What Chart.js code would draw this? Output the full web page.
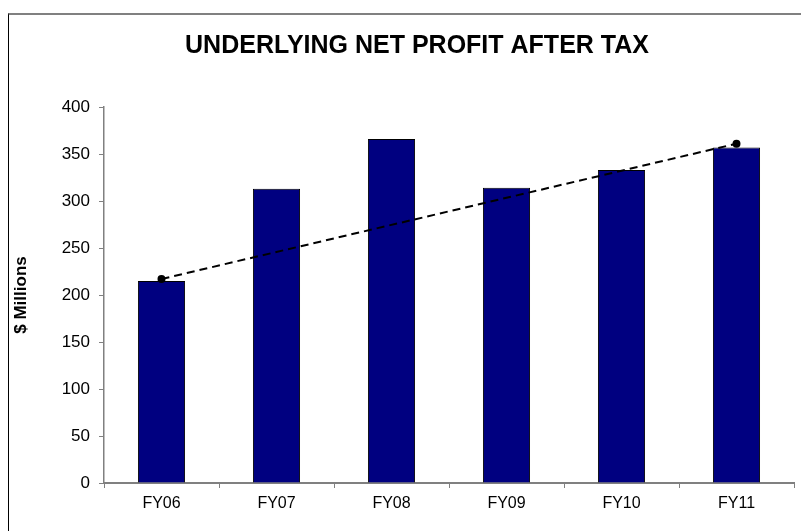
<!DOCTYPE html>
<html>
<head>
<meta charset="utf-8">
<script src="https://cdn.jsdelivr.net/npm/chart.js@4"></script>
<style>
  html, body { margin: 0; padding: 0; background: #fff; overflow: hidden; }
  #wrap { position: relative; width: 801px; height: 531px; overflow: hidden; }
  #frame {
    position: absolute; left: 8px; top: 13px; width: 900px; height: 600px;
    border-left: 1px solid #000; border-top: 2px solid #808080;
    pointer-events: none;
  }
  canvas { position: absolute; left: 0; top: 0; }
</style>
</head>
<body>
<div id="wrap">
  <canvas id="chart" width="834" height="531"></canvas>
  <div id="frame"></div>
</div>
<script>
// data
const categories = ['FY06', 'FY07', 'FY08', 'FY09', 'FY10', 'FY11'];
const profit = [215, 313, 366, 314, 333, 357];
// dashed trend line, only its two end points
const trend = [217, null, null, null, null, 361];
const yTicks = [0, 50, 100, 150, 200, 250, 300, 350, 400];

Chart.defaults.font.family = '"Liberation Sans", Arial, sans-serif';
Chart.defaults.color = '#000';

const ctx = document.getElementById('chart').getContext('2d');

new Chart(ctx, {
  data: {
    labels: categories,
    datasets: [
      {
        type: 'line',
        label: 'Trend',
        data: trend,
        spanGaps: true,
        borderColor: '#000',
        borderWidth: 2,
        borderDash: [8, 5],
        pointRadius: 3,
        pointBackgroundColor: '#000',
        pointBorderColor: '#000',
        fill: false,
        order: 1
      },
      {
        type: 'bar',
        label: 'Underlying NPAT',
        data: profit,
        backgroundColor: '#000080',
        borderColor: '#000',
        borderWidth: 1,
        barPercentage: 0.41,
        categoryPercentage: 1,
        order: 2
      }
    ]
  },
  options: {
    responsive: false,
    animation: false,
    layout: { padding: 0 },
    plugins: {
      legend: { display: false },
      tooltip: { enabled: false },
      title: {
        display: true,
        text: 'UNDERLYING NET PROFIT AFTER TAX',
        font: { size: 25, weight: 'bold' },
        color: '#000',
        padding: { top: 31.5, bottom: 45.5 }
      }
    },
    scales: {
      x: {
        grid: { drawOnChartArea: false, offset: true, color: '#808080', tickLength: 5 },
        border: { color: '#808080', width: 2 },
        ticks: { font: { size: 16 }, padding: 6, maxRotation: 0 },
        afterFit: (scale) => { scale.height = 48; }
      },
      y: {
        min: 0,
        max: 400,
        afterBuildTicks: (scale) => { scale.ticks = yTicks.map(v => ({ value: v })); },
        grid: { drawOnChartArea: false, color: '#808080', tickLength: 5 },
        border: { color: '#808080', width: 1.5 },
        ticks: { font: { size: 17 }, padding: 9 },
        title: {
          display: true,
          text: '$ Millions',
          font: { size: 17, weight: 'bold' },
          padding: { top: 11, bottom: 0 }
        },
        afterFit: (scale) => { scale.width = 104; }
      },
      // empty spacer on the right so the title stays centred on the full frame
      spacer: {
        type: 'linear',
        position: 'right',
        grid: { display: false },
        border: { display: false },
        ticks: { display: false },
        afterFit: (scale) => { scale.width = 40; }
      }
    }
  }
});
</script>
</body>
</html>
